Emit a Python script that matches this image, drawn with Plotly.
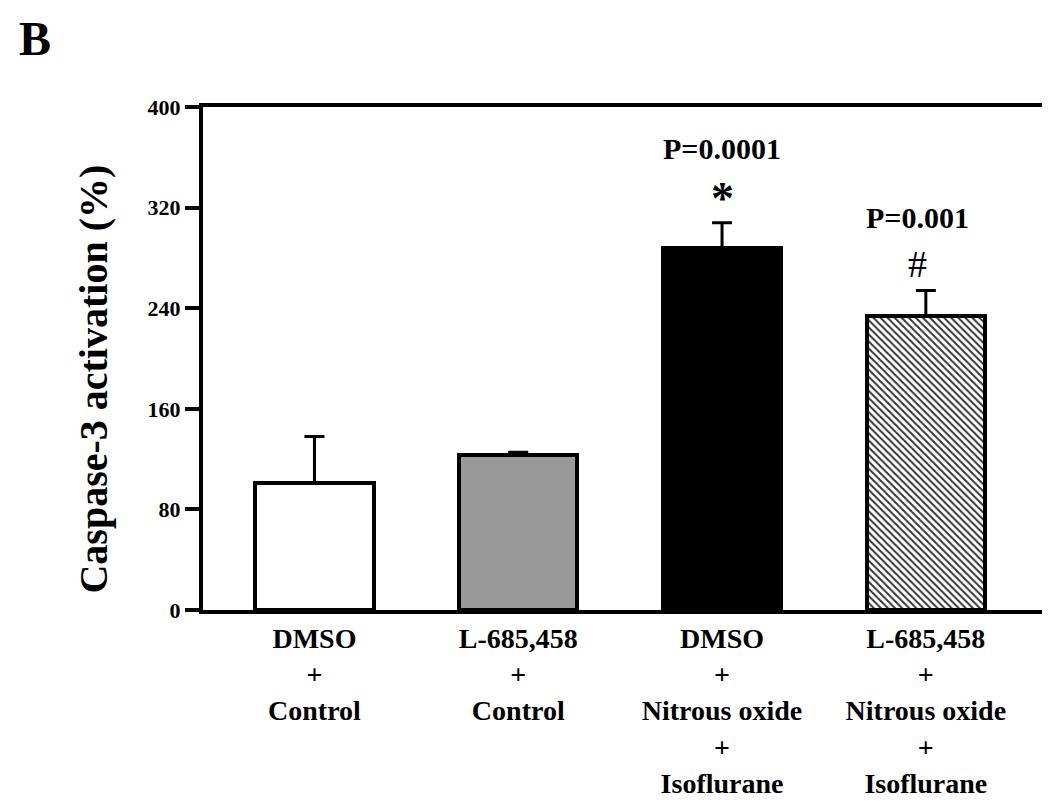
import plotly.graph_objects as go

categories = ["DMSO<br>+<br>Control",
              "L-685,458<br>+<br>Control",
              "DMSO<br>+<br>Nitrous oxide<br>+<br>Isoflurane",
              "L-685,458<br>+<br>Nitrous oxide<br>+<br>Isoflurane"]
means = [101, 123, 288, 234]
errors = [37, 2.5, 20, 20]
fill_colors = ["white", "#999999", "black", "white"]
y_ticks = [0, 80, 160, 240, 320, 400]
x_pos = list(range(len(categories)))

FONT = "Liberation Serif"

fig = go.Figure()
for i in range(len(categories)):
    marker = dict(color=fill_colors[i], line=dict(color="black", width=4))
    if i == 3:
        marker["pattern"] = dict(shape="\\", fgcolor="#333333", bgcolor="white",
                                 size=5, solidity=0.4, fillmode="replace")
    fig.add_trace(go.Bar(
        x=[x_pos[i]], y=[means[i]], width=0.58,
        marker=marker,
        error_y=dict(type="data", symmetric=False, array=[errors[i]],
                     arrayminus=[0], color="black", thickness=3, width=10),
        showlegend=False,
    ))

fig.update_layout(
    width=1050, height=810,
    margin=dict(l=195, r=16, t=99, b=208),
    plot_bgcolor="white", paper_bgcolor="white",
    font=dict(family=FONT, color="black"),
    bargap=0,
)
fig.update_xaxes(
    range=[-0.547, 3.57], tickmode="array", tickvals=x_pos, ticktext=categories,
    showline=True, linecolor="black", linewidth=4, mirror=True,
    ticks="", showgrid=False, zeroline=False,
    tickfont=dict(family=FONT, size=28, weight="bold", color="black"),
)
fig.update_yaxes(
    range=[0, 400], tickmode="array", tickvals=y_ticks,
    showline=True, linecolor="black", linewidth=4, mirror=True,
    ticks="outside", ticklen=14, tickwidth=4, tickcolor="black",
    showgrid=False, zeroline=False,
    tickfont=dict(family=FONT, size=22, weight="bold", color="black"),
)

annotations = [
    dict(text="<b>Caspase-3 activation (%)</b>", xref="paper", yref="paper",
         x=-0.13, y=0.46, textangle=-90, showarrow=False,
         font=dict(family=FONT, size=40, color="black"),
         xanchor="center", yanchor="middle"),
    dict(text="<b>B</b>", xref="paper", yref="paper", x=-0.2, y=1.193,
         showarrow=False, font=dict(family=FONT, size=48, color="black"),
         xanchor="center", yanchor="top"),
    dict(text="<b>P=0.0001</b>", xref="x", yref="y", x=2.0, y=367,
         showarrow=False, font=dict(family=FONT, size=30, color="black"),
         xanchor="center", yanchor="middle"),
    dict(text="<b>*</b>", xref="x", yref="y", x=2.0, y=327,
         showarrow=False, font=dict(family=FONT, size=46, color="black"),
         xanchor="center", yanchor="middle"),
    dict(text="<b>P=0.001</b>", xref="x", yref="y", x=2.96, y=312,
         showarrow=False, font=dict(family=FONT, size=30, color="black"),
         xanchor="center", yanchor="middle"),
    dict(text="#", xref="x", yref="y", x=2.96, y=275,
         showarrow=False, font=dict(family=FONT, size=38, color="black"),
         xanchor="center", yanchor="middle"),
]
fig.update_layout(annotations=annotations)

fig.write_html("out.html")
